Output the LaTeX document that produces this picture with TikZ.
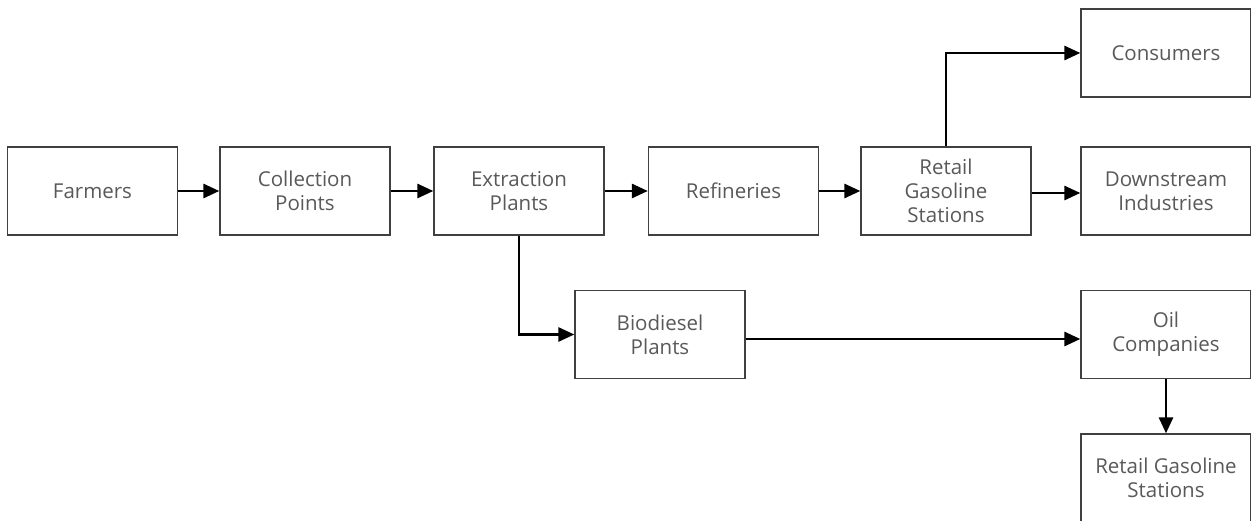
\documentclass[tikz,border=0pt]{standalone}
\usepackage{fontspec}
\setmainfont{Open Sans}
\usetikzlibrary{arrows.meta}
\definecolor{boxline}{HTML}{404040}
\definecolor{boxtext}{HTML}{595959}
\begin{document}
\begin{tikzpicture}[x=1pt,y=-1pt,
  blk/.style={draw=boxline,line width=1.3pt,fill=white,minimum width=170pt,minimum height=88pt,
    align=center,text=boxtext,font=\fontsize{20.5}{24}\selectfont,inner sep=2pt},
  flow/.style={line width=2.8pt,black,-{Triangle[length=16pt,width=14pt]}}]
\useasboundingbox (0,0) rectangle (1251,521);
\node[blk] (farm) at (92.5,191) {Farmers};
\node[blk] (coll) at (305,191) {Collection\\Points};
\node[blk] (extr) at (519,191) {Extraction\\Plants};
\node[blk] (refi) at (733.5,191) {Refineries};
\node[blk] (reta) at (946,191) {Retail\\Gasoline\\Stations};
\node[blk] (cons) at (1166,53) {Consumers};
\node[blk] (down) at (1166,191) {Downstream\\Industries};
\node[blk] (biod) at (660,334.5) {Biodiesel\\Plants};
\node[blk] (oilc) at (1166,334.5) {Oil\\Companies};
\node[blk] (retb) at (1166,478) {Retail Gasoline\\Stations};
\draw[flow] (farm) -- (coll);
\draw[flow] (coll) -- (extr);
\draw[flow] (extr) -- (refi);
\draw[flow] (refi) -- (reta);
\draw[flow] (reta.east |- 0,193) -- (down.west |- 0,193);
\draw[flow] (reta.north) |- (cons.west);
\draw[flow] (extr.south) |- (biod.west);
\draw[flow] (biod.east |- 0,339) -- (oilc.west |- 0,339);
\draw[flow] (oilc.south) -- (retb.north);
\end{tikzpicture}
\end{document}
